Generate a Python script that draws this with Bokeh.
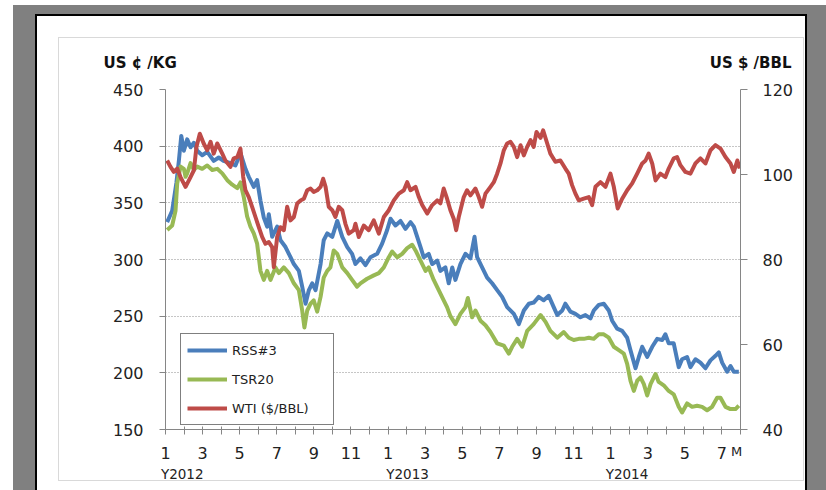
from bokeh.plotting import figure
from bokeh.models import (Range1d, LinearAxis, FixedTicker, Legend, LegendItem,
                          Label, Grid)
from bokeh.embed import file_html
from bokeh.resources import INLINE

# ---------------- data (x = months since Jan 2012) ----------------
rss_t = [0.09,0.36,0.59,0.72,0.85,0.99,1.17,1.35,1.53,1.71,
         1.98,2.25,2.60,2.87,3.13,3.50,3.77,4.04,4.31,4.49,
         4.76,4.94,5.12,5.30,5.48,5.57,5.75,6.02,6.20,6.47,
         6.74,6.92,7.19,7.37,7.55,7.73,7.91,8.09,8.36,8.53,
         8.72,8.99,9.26,9.53,9.80,10.06,10.24,10.51,10.78,11.05,
         11.41,11.68,11.95,12.13,12.40,12.67,12.94,13.21,13.39,13.57,
         13.75,13.92,14.19,14.38,14.65,14.82,15.09,15.27,15.46,15.63,
         15.90,16.17,16.44,16.66,16.80,17.07,17.34,17.61,17.88,18.15,
         18.42,18.78,19.05,19.32,19.59,19.85,20.12,20.39,20.66,20.93,
         21.12,21.39,21.56,21.83,22.10,22.37,22.64,22.91,23.09,23.36,
         23.63,23.90,24.08,24.35,24.62,24.89,25.07,25.34,25.52,25.70,
         25.97,26.24,26.51,26.78,26.95,27.13,27.40,27.67,27.85,28.12,
         28.30,28.57,28.84,29.11,29.38,29.65,29.83,30.01,30.28,30.46,
         30.64,30.91]
rss_v = [333,343,368,387,409,396,406,399,403,396,
         392,395,387,390,387,385,383,394,380,373,
         364,370,352,337,329,340,320,329,317,311,
         302,296,290,276,261,273,279,273,296,317,
         323,320,334,320,311,305,296,301,295,302,
         305,314,326,336,330,334,327,333,329,320,
         311,302,305,296,299,290,293,279,293,282,
         296,305,301,320,302,293,284,279,273,267,
         258,252,243,255,261,262,267,264,268,258,
         251,255,261,254,252,249,251,248,255,260,
         261,255,246,239,237,231,220,204,214,223,
         214,223,230,229,234,226,226,205,212,214,
         205,212,209,204,211,215,218,209,201,206,
         201,201]

tsr_t = [0.09,0.36,0.54,0.63,0.81,0.99,1.08,1.17,1.35,1.53,
         1.71,1.98,2.25,2.52,2.79,3.06,3.33,3.60,3.87,4.04,
         4.22,4.40,4.58,4.76,4.94,5.12,5.30,5.48,5.66,5.93,
         6.11,6.38,6.65,6.92,7.19,7.37,7.49,7.64,7.82,7.99,
         8.18,8.36,8.53,8.72,8.89,9.07,9.26,9.53,9.80,10.06,
         10.33,10.51,10.87,11.23,11.50,11.77,12.04,12.22,12.49,12.76,
         13.03,13.30,13.48,13.75,14.02,14.19,14.46,14.73,15.00,15.18,
         15.36,15.63,15.90,16.17,16.30,16.53,16.71,16.98,17.25,17.52,
         17.88,18.24,18.51,18.69,18.96,19.23,19.50,19.85,20.22,20.49,
         20.75,21.12,21.47,21.74,22.01,22.28,22.55,22.82,23.09,23.36,
         23.63,23.90,24.17,24.44,24.71,24.89,25.07,25.25,25.43,25.61,
         25.79,25.97,26.15,26.42,26.59,26.86,27.13,27.40,27.67,27.85,
         28.12,28.39,28.66,28.93,29.20,29.47,29.74,29.92,30.19,30.46,
         30.73,30.91]
tsr_v = [326,330,343,367,382,380,373,376,385,379,
         382,380,383,379,380,376,370,366,363,368,
         355,338,329,323,314,290,282,290,282,293,
         288,293,288,279,273,255,240,255,261,264,
         254,267,284,290,293,308,305,293,288,282,
         276,279,283,286,288,293,302,307,302,305,
         310,313,308,299,290,293,282,273,264,258,
         250,243,252,258,266,249,255,246,242,236,
         226,224,217,223,230,223,237,243,251,245,
         237,231,236,231,229,230,230,231,230,234,
         234,231,223,220,217,208,193,184,193,196,
         190,180,190,199,192,189,184,181,170,165,
         173,170,171,170,167,170,178,178,170,168,
         168,171]

wti_t = [0.09,0.27,0.45,0.63,0.81,1.08,1.35,1.53,1.67,1.85,
         2.06,2.25,2.43,2.60,2.79,3.06,3.23,3.50,3.68,3.87,
         4.04,4.19,4.31,4.49,4.67,4.85,5.03,5.21,5.39,5.57,
         5.75,5.84,6.02,6.20,6.38,6.56,6.74,6.92,7.10,7.28,
         7.46,7.64,7.82,7.99,8.18,8.36,8.50,8.63,8.80,8.99,
         9.16,9.34,9.53,9.70,9.88,10.15,10.24,10.42,10.69,10.96,
         11.23,11.50,11.77,12.04,12.31,12.58,12.85,13.03,13.21,13.48,
         13.66,13.84,14.11,14.38,14.65,14.82,15.00,15.18,15.36,15.54,
         15.67,15.81,16.08,16.26,16.44,16.71,16.89,17.07,17.25,17.52,
         17.70,17.88,18.06,18.24,18.42,18.60,18.78,18.96,19.14,19.32,
         19.50,19.68,19.85,20.00,20.22,20.36,20.58,20.75,21.02,21.29,
         21.56,21.74,21.92,22.10,22.28,22.55,22.82,23.00,23.18,23.45,
         23.72,23.99,24.17,24.38,24.62,24.89,25.16,25.43,25.70,25.88,
         26.05,26.24,26.42,26.68,26.95,27.13,27.40,27.58,27.76,28.03,
         28.30,28.57,28.84,29.11,29.38,29.65,29.92,30.19,30.46,30.64,
         30.83,30.96]
wti_v = [103.3,101.8,100.6,101.4,99.4,97.1,99.4,101.0,106.5,109.6,
         107.3,105.7,107.7,104.9,107.3,104.9,103.3,101.8,103.8,104.1,
         106.1,99.4,96.3,94.7,92.4,90.0,87.6,85.3,83.7,84.1,
         82.9,78.2,85.3,87.6,86.9,92.4,89.2,90.0,93.2,93.9,
         94.3,96.3,96.7,95.9,96.3,97.1,99.0,97.1,92.4,91.6,
         90.0,92.4,91.6,88.4,86.1,86.9,88.4,85.3,88.0,86.9,
         89.2,86.1,90.0,91.6,93.9,95.5,96.3,98.2,96.3,97.1,
         94.7,92.8,90.8,92.8,93.9,93.2,96.7,94.3,91.6,89.6,
         86.9,90.0,94.7,96.3,95.1,96.7,94.7,92.4,95.5,97.1,
         98.2,100.2,102.6,105.7,107.3,107.7,106.5,104.1,106.9,104.5,
         106.5,108.1,106.5,110.0,108.6,110.4,107.3,104.9,103.0,103.3,
         101.4,100.2,97.5,95.5,93.9,94.3,94.7,92.8,97.1,98.2,
         97.1,100.2,97.1,92.0,94.3,96.3,97.9,100.2,102.6,103.3,
         104.9,102.6,98.6,100.2,99.4,101.4,103.8,104.1,102.2,100.6,
         100.2,102.6,103.8,102.6,105.7,106.9,106.1,104.1,102.6,100.6,
         103.3,101.4]

series_names = ["RSS#3", "TSR20", "WTI ($/BBL)"]
left_ticks = [150, 200, 250, 300, 350, 400, 450]
right_ticks = [40, 60, 80, 100, 120]
month_ticks = list(range(0, 32))
month_labels = ["1", "", "3", "", "5", "", "7", "", "9", "", "11", "",
                "1", "", "3", "", "5", "", "7", "", "9", "", "11", "",
                "1", "", "3", "", "5", "", "7", ""]
year_ticks = [0.9, 13.05, 24.88]
year_labels = ["Y2012", "Y2013", "Y2014"]
left_title = "US \u00a2 /KG"
right_title = "US $ /BBL"
unit_mark = "M"

BLUE = "#4A7EBB"
GREEN = "#98B954"
RED = "#BE4B48"
AXIS = "#868686"
TXT = "#222222"
FONT = "DejaVu Sans"

# page decoration drawn as CSS backgrounds behind a transparent border area
def rect(x, y, w, h, c):
    return f"linear-gradient({c},{c}) {x}px {y}px / {w}px {h}px no-repeat"

page_bg = ", ".join([
    rect(58, 37, 746, 1, "#d9d9d9"),
    rect(58, 480, 746, 1, "#d9d9d9"),
    rect(58, 37, 1, 444, "#d9d9d9"),
    rect(803, 37, 1, 444, "#d9d9d9"),
    rect(37, 16, 768, 474, "#ffffff"),
    rect(35, 14, 772, 476, "#000000"),
    rect(13, 5, 813, 485, "#808080"),
]) + ", #ffffff"

W, H = 826, 490
p = figure(width=W, height=H, output_backend="svg", toolbar_location=None,
           x_range=Range1d(0, 31), y_range=Range1d(150, 450),
           x_axis_type=None, y_axis_type=None,
           min_border_left=165, min_border_right=86,
           min_border_top=89, min_border_bottom=61)
p.extra_y_ranges = {"wti": Range1d(40, 120), "py": Range1d(429, 89)}
p.extra_x_ranges = {"px": Range1d(165, 740)}
p.outline_line_color = None
p.background_fill_color = "white"
p.border_fill_color = None
p.styles = {"background": page_bg}

# axes
yl = LinearAxis(ticker=FixedTicker(ticks=left_ticks))
yr = LinearAxis(ticker=FixedTicker(ticks=right_ticks), y_range_name="wti")
xb = LinearAxis(ticker=FixedTicker(ticks=month_ticks),
                major_label_overrides=dict(zip(month_ticks, month_labels)))
xy = LinearAxis(ticker=FixedTicker(ticks=year_ticks),
                major_label_overrides=dict(zip(year_ticks, year_labels)))
for ax in (yl, yr, xb, xy):
    ax.axis_line_color = AXIS
    ax.axis_line_width = 1
    ax.major_tick_line_color = AXIS
    ax.minor_tick_line_color = None
    ax.major_label_text_font = FONT
    ax.major_label_text_font_size = "16px"
    ax.major_label_text_color = TXT
yl.major_tick_in = 0
yl.major_tick_out = 6
yl.major_label_standoff = 16
yr.major_tick_in = 0
yr.major_tick_out = 7
yr.major_label_standoff = 15
xb.major_tick_in = 3
xb.major_tick_out = 5
xb.major_label_standoff = 12
xy.axis_line_color = None
xy.major_tick_line_color = None
xy.major_tick_in = 0
xy.major_tick_out = 0
xy.major_label_standoff = 4
xy.major_label_text_font_size = "13.5px"
p.add_layout(yl, "left")
p.add_layout(yr, "right")
p.add_layout(xb, "below")
p.add_layout(xy, "below")

p.add_layout(Grid(dimension=1, ticker=FixedTicker(ticks=left_ticks),
                  grid_line_color="#8c8c8c", grid_line_dash="1 2",
                  grid_line_width=1))

# lines
r1 = p.line(rss_t, rss_v, line_color=BLUE, line_width=4, line_join="round")
r2 = p.line(tsr_t, tsr_v, line_color=GREEN, line_width=4, line_join="round")
r3 = p.line(wti_t, wti_v, line_color=RED, line_width=4, line_join="round",
            y_range_name="wti")

legend = Legend(items=[LegendItem(label=series_names[0], renderers=[r1]),
                       LegendItem(label=series_names[1], renderers=[r2]),
                       LegendItem(label=series_names[2], renderers=[r3])],
                location=(15, 4), orientation="vertical",
                border_line_color="black", border_line_width=1.5,
                background_fill_color="white", background_fill_alpha=1,
                label_text_font=FONT, label_text_font_size="13px",
                label_text_color=TXT,
                glyph_width=40, glyph_height=20, label_height=20,
                label_width=95, spacing=9, padding=6, label_standoff=5)
p.add_layout(legend)

# axis titles and unit mark (side-panel labels placed in page coordinates)
p.add_layout(Label(x=103, y=62, x_range_name="px", y_range_name="py",
                   text=left_title, text_font=FONT, text_font_style="bold",
                   text_font_size="15px", text_color="#111111",
                   text_align="left", text_baseline="middle"), "above")
p.add_layout(Label(x=791, y=62, x_range_name="px", y_range_name="py",
                   text=right_title, text_font=FONT, text_font_style="bold",
                   text_font_size="15px", text_color="#111111",
                   text_align="right", text_baseline="middle"), "above")
p.add_layout(Label(x=736, y=451, x_range_name="px", y_range_name="py",
                   text=unit_mark, text_font=FONT, text_font_size="13px",
                   text_color=TXT, text_align="center", text_baseline="middle"),
             "above")

open("out.html", "w").write(file_html(p, INLINE))
